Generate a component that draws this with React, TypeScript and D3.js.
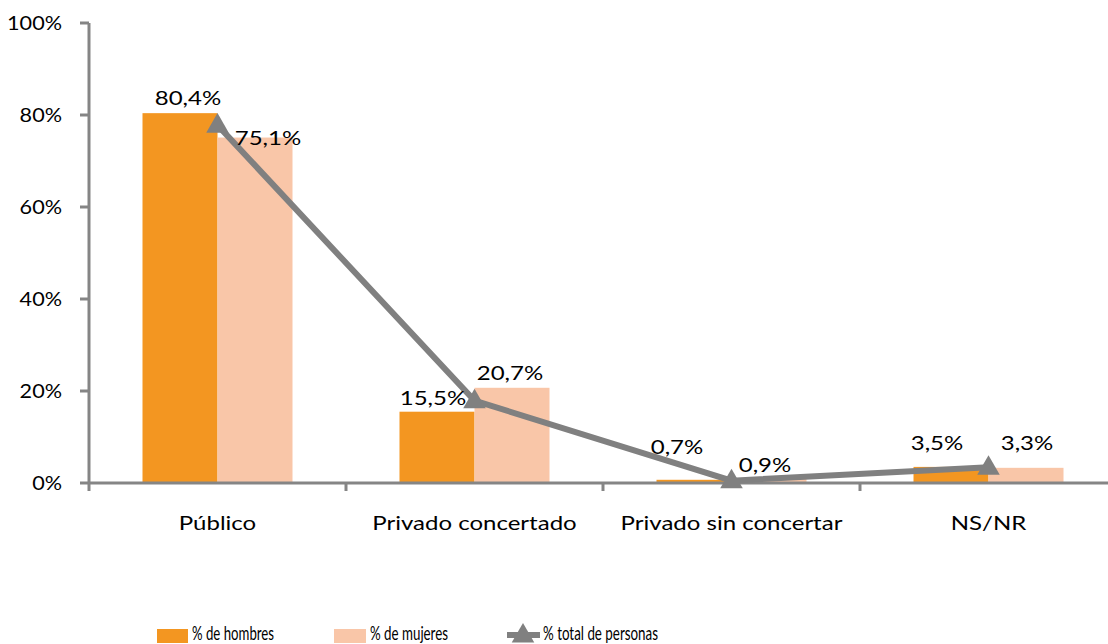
import * as d3 from "d3";
import { useEffect, useRef } from "react";

const categories = ["Público", "Privado concertado", "Privado sin concertar", "NS/NR"];
const hombres = [80.4, 15.5, 0.7, 3.5];
const mujeres = [75.1, 20.7, 0.9, 3.3];
const total = [77.8, 17.9, 0.5, 3.4];
const yTicks = [0, 20, 40, 60, 80, 100];
const seriesNames = ["% de hombres", "% de mujeres", "% total de personas"];

// manual label nudges (dx, dy) like in the original sheet
const menLabelShift = [[8, -15], [-4, -14], [-17, -33], [-14, -24]];
const womenLabelShift = [[13, 0], [-2, -15], [-4, -14], [1, -25]];

const W = 1108;
const H = 644;
const FONT = "Lato, 'Open Sans', sans-serif";

export default function App() {
  const ref = useRef<SVGSVGElement | null>(null);

  useEffect(() => {
    if (!ref.current) return;
    const svg = d3.select(ref.current);
    svg.selectAll("*").remove();

    const left = 89;
    const top = 23;
    const bottom = 483;
    const bandW = 257;

    const x = d3
      .scaleBand<string>()
      .domain(categories)
      .range([left, left + bandW * categories.length]);
    const y = d3.scaleLinear().domain([0, 100]).range([bottom, top]);
    const barW = 75;

    const orange = "#F39621";
    const peach = "#F9C6A8";
    const grey = "#858585";

    const g = svg.append("g");

    // bars
    g.selectAll("rect.men")
      .data(hombres)
      .join("rect")
      .attr("class", "men")
      .attr("x", (_, i) => x(categories[i])! + bandW / 2 - barW)
      .attr("y", (d) => y(d))
      .attr("width", barW)
      .attr("height", (d) => bottom - y(d))
      .attr("fill", orange);

    g.selectAll("rect.women")
      .data(mujeres)
      .join("rect")
      .attr("class", "women")
      .attr("x", (_, i) => x(categories[i])! + bandW / 2)
      .attr("y", (d) => y(d))
      .attr("width", barW)
      .attr("height", (d) => bottom - y(d))
      .attr("fill", peach);

    // axes
    g.append("line")
      .attr("x1", left).attr("x2", W + 20)
      .attr("y1", bottom).attr("y2", bottom)
      .attr("stroke", grey).attr("stroke-width", 3);
    g.append("line")
      .attr("x1", left).attr("x2", left)
      .attr("y1", top).attr("y2", bottom + 8)
      .attr("stroke", grey).attr("stroke-width", 3);

    yTicks.forEach((t) => {
      g.append("line")
        .attr("x1", left - 9).attr("x2", left)
        .attr("y1", y(t)).attr("y2", y(t))
        .attr("stroke", grey).attr("stroke-width", 3);
      g.append("text")
        .attr("class", "ytick")
        .attr("x", 62)
        .attr("y", y(t))
        .attr("dy", "0.35em")
        .attr("text-anchor", "end")
        .attr("font-family", FONT)
        .attr("font-size", 20)
        .attr("fill", "#000")
        .text(`${t}%`);
    });

    categories.forEach((c, i) => {
      const bx = left + bandW * (i + 1);
      g.append("line")
        .attr("x1", bx).attr("x2", bx)
        .attr("y1", bottom).attr("y2", bottom + 8)
        .attr("stroke", grey).attr("stroke-width", 3);
      g.append("text")
        .attr("class", "wide")
        .attr("x", x(c)! + bandW / 2)
        .attr("y", 523)
        .attr("dy", "0.35em")
        .attr("text-anchor", "middle")
        .attr("font-family", FONT)
        .attr("font-size", 20)
        .text(c);
    });

    // total line
    const line = d3
      .line<number>()
      .x((_, i) => x(categories[i])! + bandW / 2)
      .y((d) => y(d));
    g.append("path")
      .datum(total)
      .attr("d", line)
      .attr("fill", "none")
      .attr("stroke", "#808080")
      .attr("stroke-width", 6);

    const tri = d3.symbol().type(d3.symbolTriangle).size(220);
    g.selectAll("path.marker")
      .data(total)
      .join("path")
      .attr("class", "marker")
      .attr("d", tri)
      .attr("transform", (d, i) => `translate(${x(categories[i])! + bandW / 2},${y(d) + 1})`)
      .attr("fill", "#808080");

    // labels
    const fmt = (v: number) => `${v.toFixed(1).replace(".", ",")}%`;
    hombres.forEach((v, i) => {
      g.append("text")
        .attr("class", "wide")
        .attr("x", x(categories[i])! + bandW / 2 - barW / 2 + menLabelShift[i][0])
        .attr("y", y(v) + menLabelShift[i][1])
        .attr("dy", "0.35em")
        .attr("text-anchor", "middle")
        .attr("font-family", FONT)
        .attr("font-size", 20)
        .text(fmt(v));
    });
    mujeres.forEach((v, i) => {
      g.append("text")
        .attr("class", "wide")
        .attr("x", x(categories[i])! + bandW / 2 + barW / 2 + womenLabelShift[i][0])
        .attr("y", y(v) + womenLabelShift[i][1])
        .attr("dy", "0.35em")
        .attr("text-anchor", "middle")
        .attr("font-family", FONT)
        .attr("font-size", 20)
        .text(fmt(v));
    });

    // the source font runs wider than Lato: stretch the texts a bit
    const stretch = (sel: string, k: number) =>
      g.selectAll<SVGTextElement, unknown>(sel).each(function () {
        const len = this.getComputedTextLength();
        d3.select(this)
          .attr("textLength", len * k)
          .attr("lengthAdjust", "spacingAndGlyphs");
      });
    stretch("text.wide", 1.2);
    stretch("text.ytick", 1.08);

    // legend
    const lg = svg.append("g");
    const legendX = [157, 334, 507];
    lg.append("rect").attr("x", legendX[0]).attr("y", 629).attr("width", 31).attr("height", 14).attr("fill", orange);
    lg.append("rect").attr("x", legendX[1]).attr("y", 629).attr("width", 32).attr("height", 14).attr("fill", peach);
    lg.append("line")
      .attr("x1", legendX[2]).attr("x2", legendX[2] + 33)
      .attr("y1", 635).attr("y2", 635)
      .attr("stroke", "#808080").attr("stroke-width", 6);
    lg.append("path")
      .attr("d", tri)
      .attr("transform", `translate(${legendX[2] + 16},636)`)
      .attr("fill", "#808080");
    const textX = [192, 370, 543];
    const textW = [82, 78, 115];
    seriesNames.forEach((s, i) => {
      lg.append("text")
        .attr("x", textX[i])
        .attr("y", 640)
        .attr("font-family", FONT)
        .attr("font-size", 19)
        .attr("textLength", textW[i])
        .attr("lengthAdjust", "spacingAndGlyphs")
        .text(s);
    });
  }, []);

  return (
    <svg
      ref={ref}
      width={W}
      height={H}
      style={{ position: "absolute", left: 0, top: 0, background: "#fff" }}
    />
  );
}
